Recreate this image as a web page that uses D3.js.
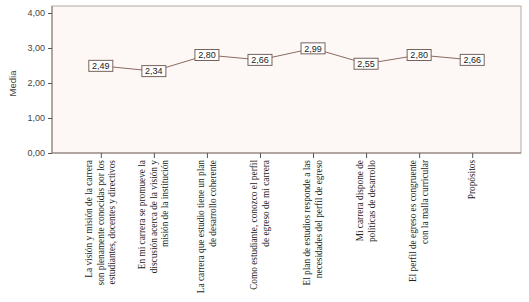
<!DOCTYPE html>
<html>
<head>
<meta charset="utf-8">
<script src="https://d3js.org/d3.v7.min.js"></script>
<style>
    body { margin: 0; background: #fff; }
    svg { display: block; }
    .ytick text { font-family: "Liberation Sans", Arial, sans-serif; font-size: 9px; fill: #444; }
    .xlab { font-family: "Liberation Serif", "Times New Roman", serif; font-size: 9.3px; fill: #222; }
    .vlab { font-family: "Liberation Sans", Arial, sans-serif; font-size: 9px; fill: #222; }
</style>
</head>
<body>
<div id="chart"></div>
<script>
    // categories (split in lines as in the original) and mean values
    const categories = [
        ["La visión y misión de la carrera", "son plenamente conocidas por los", "estudiantes, docentes y directivos"],
        ["En mi carrera se promueve la", "discusión acerca de la visión y", "misión de la institución"],
        ["La carrera que estudio tiene un plan", "de desarrollo coherente"],
        ["Como estudiante, conozco el perfil", "de egreso de mi carrera"],
        ["El plan de estudios responde a las", "necesidades del perfil de egreso"],
        ["Mi carrera dispone de", "políticas de desarrollo"],
        ["El perfil de egreso es congruente", "con la malla curricular"],
        ["Propósitos"]
    ];
    const values = [2.49, 2.34, 2.80, 2.66, 2.99, 2.55, 2.80, 2.66];
    const yTicks = [0, 1, 2, 3, 4];
    const yTitle = "Media";

    const width = 529, height = 302;
    const frame = { left: 52, top: 6, right: 521, bottom: 153 };

    const svg = d3.select("#chart").append("svg")
        .attr("width", width)
        .attr("height", height);

    const x = d3.scalePoint()
        .domain(d3.range(categories.length))
        .range([frame.left, frame.right])
        .padding(0.92);

    const y = d3.scaleLinear()
        .domain([0, 4])
        .range([frame.bottom, 13]);

    // plot background
    svg.append("rect")
        .attr("x", frame.left)
        .attr("y", frame.top)
        .attr("width", frame.right - frame.left)
        .attr("height", frame.bottom - frame.top)
        .attr("fill", "#fdf8f5")
        .attr("stroke", "#b3a8a4")
        .attr("stroke-width", 1);

    // y axis
    const yAxis = svg.append("g")
        .attr("class", "ytick")
        .attr("transform", `translate(${frame.left},0)`)
        .call(d3.axisLeft(y).tickValues(yTicks).tickSize(4).tickPadding(3)
            .tickFormat(d => d3.format(".2f")(d).replace(".", ",")));
    yAxis.select(".domain").attr("d", `M0,${frame.top}V${frame.bottom}`).attr("stroke", "#8a7a74");
    yAxis.selectAll(".tick line").attr("stroke", "#555");

    svg.append("text")
        .attr("transform", `translate(16,${(frame.top + frame.bottom) / 2 + 4}) rotate(-90)`)
        .attr("text-anchor", "middle")
        .attr("class", "vlab")
        .style("font-size", "9.5px")
        .style("fill", "#444")
        .text(yTitle);

    // x axis
    const xAxis = svg.append("g")
        .attr("transform", `translate(0,${frame.bottom})`)
        .call(d3.axisBottom(x).tickSize(5).tickFormat(""));
    xAxis.select(".domain").attr("d", `M${frame.left},0H${frame.right}`).attr("stroke", "#8a7a74");
    xAxis.selectAll(".tick line").attr("stroke", "#555");

    // rotated multi-line category labels
    const lineH = 11.5;
    categories.forEach((lines, i) => {
        const cx = x(i);
        const n = lines.length;
        const t = svg.append("text")
            .attr("class", "xlab")
            .attr("text-anchor", "end")
            .attr("transform", `translate(${cx},${frame.bottom + 7}) rotate(-90)`);
        lines.forEach((ln, j) => {
            t.append("tspan")
                .attr("x", 0)
                .attr("y", (j - (n - 1) / 2) * lineH + 3)
                .text(ln);
        });
    });

    // line
    const line = d3.line()
        .x((d, i) => x(i))
        .y(d => y(d));

    svg.append("path")
        .datum(values)
        .attr("fill", "none")
        .attr("stroke", "#8c6a63")
        .attr("stroke-width", 1)
        .attr("d", line);

    // value labels in boxes
    const boxW = 24, boxH = 11;
    const lab = svg.selectAll(".val")
        .data(values)
        .enter().append("g")
        .attr("class", "val")
        .attr("transform", (d, i) => `translate(${x(i)},${y(d)})`);

    lab.append("rect")
        .attr("x", -boxW / 2)
        .attr("y", -boxH / 2)
        .attr("width", boxW)
        .attr("height", boxH)
        .attr("fill", "#fff")
        .attr("stroke", "#7a625c")
        .attr("stroke-width", 1);

    lab.append("text")
        .attr("class", "vlab")
        .attr("text-anchor", "middle")
        .attr("dy", "0.35em")
        .text(d => d3.format(".2f")(d).replace(".", ","));
</script>
</body>
</html>
